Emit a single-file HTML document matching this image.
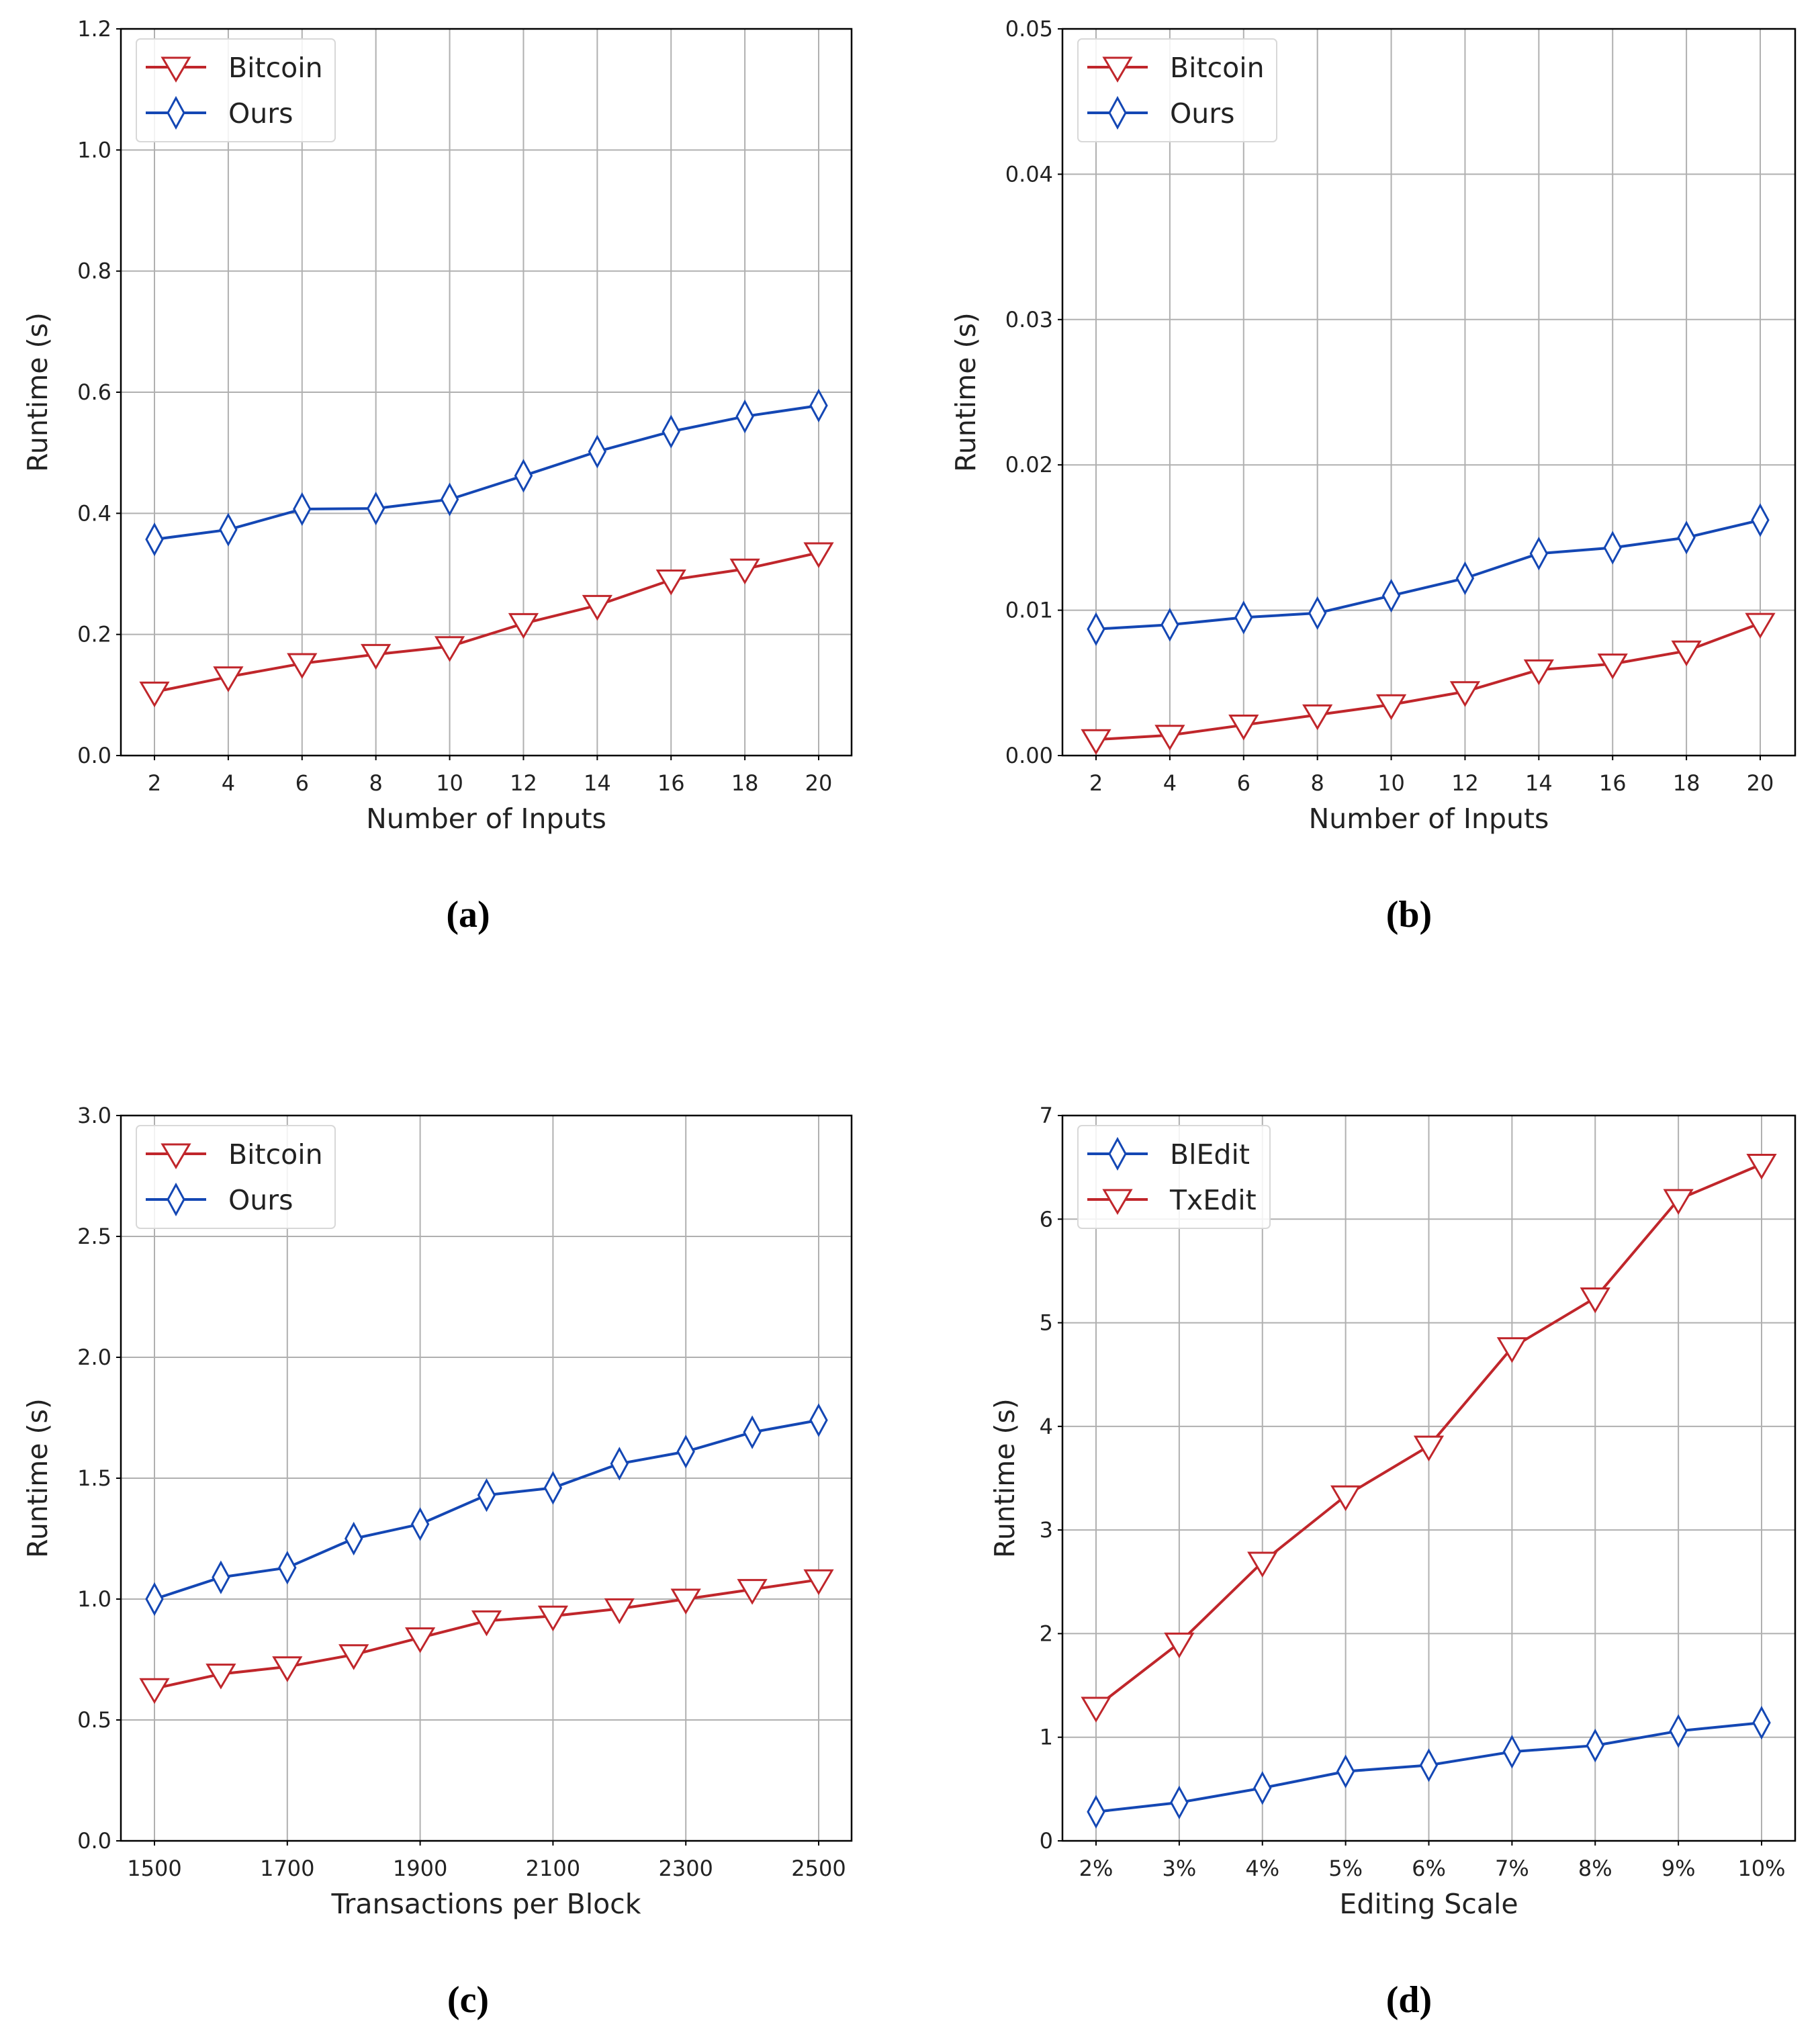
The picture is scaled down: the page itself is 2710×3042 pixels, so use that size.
<!DOCTYPE html>
<html><head><meta charset="utf-8"><style>
html,body{margin:0;padding:0;background:#fff;}
svg{display:block;font-family:"DejaVu Sans","Liberation Sans",sans-serif;}
</style></head><body>
<svg id="fig" width="2710" height="3042" viewBox="0 0 2710 3042" xmlns="http://www.w3.org/2000/svg"></svg>
<script>
// Panel data
const aX = [2,4,6,8,10,12,14,16,18,20];
const aBitcoin = [0.105,0.130,0.152,0.167,0.180,0.218,0.248,0.290,0.308,0.335];
const aOurs = [0.357,0.373,0.407,0.408,0.423,0.462,0.502,0.535,0.560,0.578];
const aYTicks = [0,0.2,0.4,0.6,0.8,1.0,1.2];
const aYLabels = ["0.0","0.2","0.4","0.6","0.8","1.0","1.2"];

const bX = [2,4,6,8,10,12,14,16,18,20];
const bBitcoin = [0.0011,0.0014,0.0021,0.0028,0.0035,0.0044,0.0059,0.0063,0.0072,0.0091];
const bOurs = [0.0087,0.0090,0.0095,0.0098,0.0110,0.0122,0.0139,0.0143,0.0150,0.0162];
const bYTicks = [0,0.01,0.02,0.03,0.04,0.05];
const bYLabels = ["0.00","0.01","0.02","0.03","0.04","0.05"];

const cX = [1500,1600,1700,1800,1900,2000,2100,2200,2300,2400,2500];
const cBitcoin = [0.63,0.69,0.72,0.77,0.84,0.91,0.93,0.96,1.00,1.04,1.08];
const cOurs = [1.00,1.09,1.13,1.25,1.31,1.43,1.46,1.56,1.61,1.69,1.74];
const cXTicks = [1500,1700,1900,2100,2300,2500];
const cYTicks = [0,0.5,1.0,1.5,2.0,2.5,3.0];
const cYLabels = ["0.0","0.5","1.0","1.5","2.0","2.5","3.0"];

const dX = [2,3,4,5,6,7,8,9,10];
const dBlEdit = [0.28,0.37,0.51,0.67,0.73,0.86,0.92,1.06,1.14];
const dTxEdit = [1.29,1.91,2.69,3.33,3.81,4.76,5.24,6.19,6.53];
const dYTicks = [0,1,2,3,4,5,6,7];

const RED="#c0262b", BLUE="#1447b4";
const NS="http://www.w3.org/2000/svg";
const svg=document.getElementById('fig');
function mk(tag,attrs,parent){const e=document.createElementNS(NS,tag);for(const k in attrs)e.setAttribute(k,attrs[k]);(parent||svg).appendChild(e);return e;}

function marker(g,type,x,y,color){
  let e;
  if(type==='tri'){
    e=mk('polygon',{points:`${x-20},${y-14} ${x+20},${y-14} ${x},${y+20}`,fill:'#fff',stroke:color,'stroke-width':3},g);
  }else{
    e=mk('polygon',{points:`${x},${y-22} ${x+12},${y} ${x},${y+22} ${x-12},${y}`,fill:'#fff',stroke:color,'stroke-width':3},g);
  }
  return e;
}

function panel(o){
  const g=mk('g',{});
  
  
  const L=o.L,R=o.R,T=o.T,B=o.B;
  const sx=v=>o.px0+(v-o.x0)/(o.x1-o.x0)*(o.px1-o.px0);
  const sy=v=>B-(v-o.y0)/(o.y1-o.y0)*(B-T);
  mk('rect',{x:L,y:T,width:R-L,height:B-T,fill:'#fff'},g);
  o.xticks.forEach((t,i)=>{
    const x=sx(t);
    const ln=mk('line',{x1:x,y1:T,x2:x,y2:B,stroke:'#b0b0b0','stroke-width':2},g);
    
    
    mk('line',{x1:x,y1:B,x2:x,y2:B+7,stroke:'#000','stroke-width':2},g);
    const tx=mk('text',{x:x,y:B+52,'font-size':32,'text-anchor':'middle',fill:'#222'},g);
    tx.textContent=o.xlabels[i];
    
    
  });
  o.yticks.forEach((t,i)=>{
    const y=sy(t);
    const ln=mk('line',{x1:L,y1:y,x2:R,y2:y,stroke:'#b0b0b0','stroke-width':2},g);
    
    
    mk('line',{x1:L-7,y1:y,x2:L,y2:y,stroke:'#000','stroke-width':2},g);
    const tx=mk('text',{x:L-14,y:y+11,'font-size':32,'text-anchor':'end',fill:'#222'},g);
    tx.textContent=o.ylabels[i];
    
    
  });
  mk('rect',{x:L,y:T,width:R-L,height:B-T,fill:'none',stroke:'#000','stroke-width':2.5},g);
  o.series.forEach(s=>{
    const pts=o.xs.map((v,i)=>sx(v)+','+sy(s.vals[i])).join(' ');
    const pl=mk('polyline',{points:pts,fill:'none',stroke:s.color,'stroke-width':4},g);
    
    
    o.xs.forEach((v,i)=>{
      const m=marker(g,s.mk,sx(v),sy(s.vals[i]),s.color);
      
      
    });
  });
  const lg=mk('g',{},g);
  
  
  const lx=L+23,ly=T+15;
  mk('rect',{x:lx,y:ly,width:o.legW,height:153,rx:6,fill:'#fff','fill-opacity':0.85,stroke:'#d8d8d8','stroke-width':2},lg);
  o.series.forEach((s,i)=>{
    const y=ly+42+i*68;
    const en=mk('g',{},lg);
    
    
    mk('line',{x1:lx+14,y1:y,x2:lx+104,y2:y,stroke:s.color,'stroke-width':4},en);
    marker(en,s.mk,lx+59,y,s.color);
    const t=mk('text',{x:lx+137,y:y+15,'font-size':41,fill:'#222'},en);
    t.textContent=s.label;
  });
  const xl=mk('text',{x:(L+R)/2,y:B+108,'font-size':41,'text-anchor':'middle',fill:'#222'},g);
  xl.textContent=o.xtitle;
  
  
  const yx=o.ytx, yy=(T+B)/2;
  const yl=mk('text',{x:yx,y:yy,'font-size':41,'text-anchor':'middle',fill:'#222',transform:`rotate(-90 ${yx} ${yy})`},g);
  yl.textContent='Runtime (s)';
  
  
  const cp=mk('text',{x:o.capx,y:B+255,'font-size':56,'font-weight':'bold','text-anchor':'middle',fill:'#000','font-family':'"Liberation Serif",serif'},g);
  cp.textContent=o.cap;
  
  
}

const topT=43, topB=1125, botT=1661, botB=2741;
panel({name:'panel-a',L:180,R:1268,T:topT,B:topB,px0:230,px1:1219,x0:2,x1:20,y0:0,y1:1.2,
  xs:aX,xticks:aX,xlabels:aX.map(String),yticks:aYTicks,ylabels:aYLabels,
  series:[{key:'bitcoin',label:'Bitcoin',vals:aBitcoin,color:RED,mk:'tri'},{key:'ours',label:'Ours',vals:aOurs,color:BLUE,mk:'dia'}],
  legW:296,xtitle:'Number of Inputs',ytx:70,capx:697,cap:'(a)'});
panel({name:'panel-b',L:1582,R:2673,T:topT,B:topB,px0:1632,px1:2621,x0:2,x1:20,y0:0,y1:0.05,
  xs:bX,xticks:bX,xlabels:bX.map(String),yticks:bYTicks,ylabels:bYLabels,
  series:[{key:'bitcoin',label:'Bitcoin',vals:bBitcoin,color:RED,mk:'tri'},{key:'ours',label:'Ours',vals:bOurs,color:BLUE,mk:'dia'}],
  legW:296,xtitle:'Number of Inputs',ytx:1452,capx:2098,cap:'(b)'});
panel({name:'panel-c',L:180,R:1268,T:botT,B:botB,px0:230,px1:1219,x0:1500,x1:2500,y0:0,y1:3.0,
  xs:cX,xticks:cXTicks,xlabels:cXTicks.map(String),yticks:cYTicks,ylabels:cYLabels,
  series:[{key:'bitcoin',label:'Bitcoin',vals:cBitcoin,color:RED,mk:'tri'},{key:'ours',label:'Ours',vals:cOurs,color:BLUE,mk:'dia'}],
  legW:296,xtitle:'Transactions per Block',ytx:70,capx:697,cap:'(c)'});
panel({name:'panel-d',L:1582,R:2673,T:botT,B:botB,px0:1632,px1:2623,x0:2,x1:10,y0:0,y1:7,
  xs:dX,xticks:dX,xlabels:dX.map(v=>v+'%'),yticks:dYTicks,ylabels:dYTicks.map(String),
  series:[{key:'bledit',label:'BlEdit',vals:dBlEdit,color:BLUE,mk:'dia'},{key:'txedit',label:'TxEdit',vals:dTxEdit,color:RED,mk:'tri'}],
  legW:286,xtitle:'Editing Scale',ytx:1510,capx:2098,cap:'(d)'});
</script>
</body></html>
